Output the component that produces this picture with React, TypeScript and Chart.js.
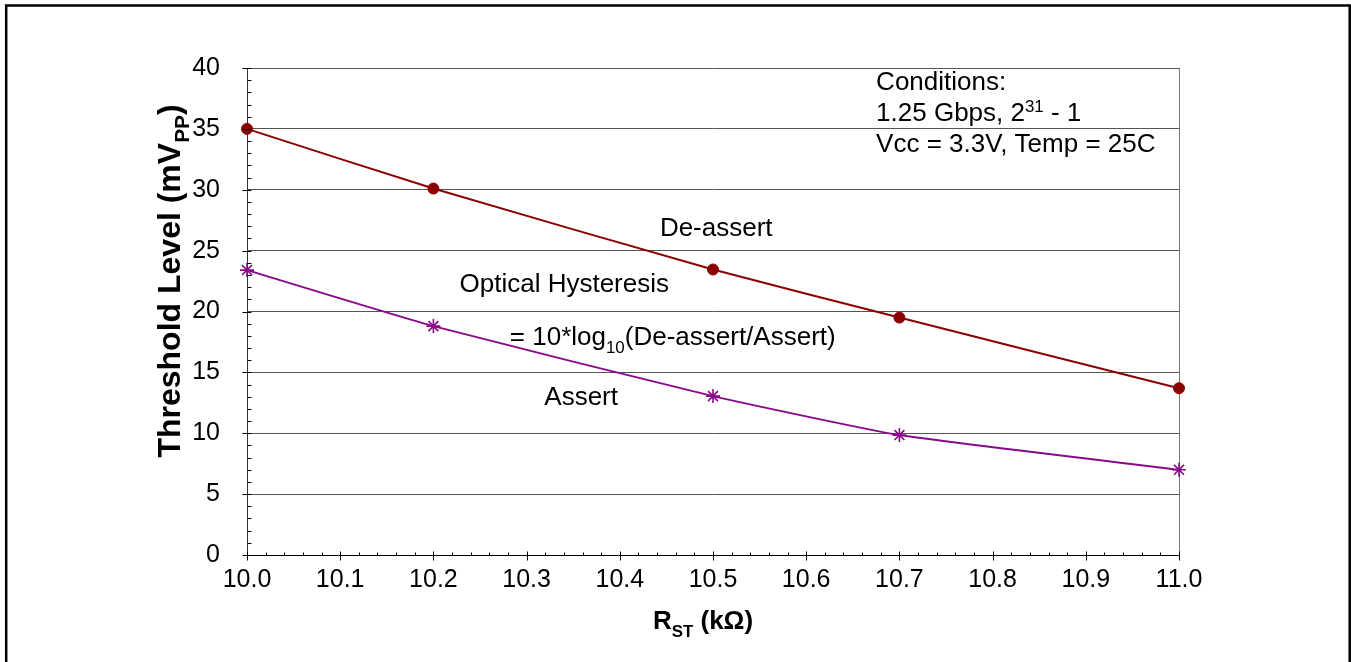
import React, { useEffect, useRef } from 'react';
import { Chart, registerables } from 'chart.js';

Chart.register(...registerables);

// ---- data ----
const rstValues = [10.0, 10.2, 10.5, 10.7, 11.0];
const deassertValues = [35.0, 30.1, 23.45, 19.5, 13.7];
const assertValues = [23.4, 18.8, 13.05, 9.85, 7.0];

const xMin = 10.0;
const xMax = 11.0;
const xStep = 0.1;
const xMinorStep = 0.02;
const yMin = 0;
const yMax = 40;
const yStep = 5;
const yMinorStep = 1;

type Part = { t: string; sub?: boolean; sup?: boolean };
type Note = { x: number; y: number; parts: Part[] };

const notes: Note[] = [
  { x: 10.675, y: 39.0, parts: [{ t: 'Conditions:' }] },
  { x: 10.675, y: 36.4, parts: [{ t: '1.25 Gbps, 2' }, { t: '31', sup: true }, { t: ' - 1' }] },
  { x: 10.675, y: 33.9, parts: [{ t: 'Vcc = 3.3V, Temp = 25C' }] },
  { x: 10.443, y: 27.0, parts: [{ t: 'De-assert' }] },
  { x: 10.228, y: 22.35, parts: [{ t: 'Optical Hysteresis' }] },
  { x: 10.282, y: 18.0, parts: [{ t: '= 10*log' }, { t: '10', sub: true }, { t: '(De-assert/Assert)' }] },
  { x: 10.319, y: 13.05, parts: [{ t: 'Assert' }] },
];

const yTitleParts: Part[] = [{ t: 'Threshold Level (mV' }, { t: 'PP', sub: true }, { t: ')' }];
const xTitleParts: Part[] = [{ t: 'R' }, { t: 'ST', sub: true }, { t: ' (k\u03A9)' }];

const FAMILY = "'Liberation Sans', Arial, Helvetica, sans-serif";

function fontStr(size: number, bold: boolean) {
  return `${bold ? 'bold ' : ''}${size}px ${FAMILY}`;
}

function richWidth(ctx: CanvasRenderingContext2D, parts: Part[], size: number, bold: boolean) {
  let w = 0;
  for (const p of parts) {
    const s = p.sub || p.sup ? size * 0.65 : size;
    ctx.font = fontStr(s, bold);
    w += ctx.measureText(p.t).width;
  }
  return w;
}

function drawRich(
  ctx: CanvasRenderingContext2D,
  parts: Part[],
  x: number,
  y: number,
  size: number,
  bold: boolean,
  align: 'left' | 'center'
) {
  const total = richWidth(ctx, parts, size, bold);
  let cx = align === 'center' ? x - total / 2 : x;
  ctx.textAlign = 'left';
  ctx.textBaseline = 'alphabetic';
  const baseY = y + size * 0.36;
  for (const p of parts) {
    const s = p.sub || p.sup ? size * 0.65 : size;
    ctx.font = fontStr(s, bold);
    let dy = 0;
    if (p.sub) dy = size * 0.3;
    if (p.sup) dy = -size * 0.36;
    ctx.fillText(p.t, cx, baseY + dy);
    cx += ctx.measureText(p.t).width;
  }
}

const decorPlugin = {
  id: 'decor',
  afterDatasetsDraw(chart: any) {
    const ctx: CanvasRenderingContext2D = chart.ctx;
    const xs = chart.scales.x;
    const ys = chart.scales.y;
    ctx.save();
    ctx.fillStyle = '#000';
    for (const n of notes) {
      drawRich(ctx, n.parts, xs.getPixelForValue(n.x), ys.getPixelForValue(n.y), 26, false, 'left');
    }
    ctx.restore();
  },
  afterDraw(chart: any) {
    const ctx: CanvasRenderingContext2D = chart.ctx;
    const xs = chart.scales.x;
    const ys = chart.scales.y;
    const area = chart.chartArea;
    ctx.save();
    // tick marks
    ctx.strokeStyle = '#000';
    ctx.lineWidth = 1;
    const x0 = Math.round(area.left) + 0.5;
    const nY = Math.round((yMax - yMin) / yMinorStep);
    const perMajorY = Math.round(yStep / yMinorStep);
    for (let i = 0; i <= nY; i++) {
      const v = yMin + i * yMinorStep;
      const py = Math.round(ys.getPixelForValue(v)) + 0.5;
      ctx.beginPath();
      if (i % perMajorY === 0) {
        ctx.moveTo(x0 - 5, py);
        ctx.lineTo(x0 + 4, py);
      } else {
        ctx.moveTo(x0, py);
        ctx.lineTo(x0 + 4, py);
      }
      ctx.stroke();
    }
    const y0 = Math.round(area.bottom) + 0.5;
    const nX = Math.round((xMax - xMin) / xMinorStep);
    const perMajorX = Math.round(xStep / xMinorStep);
    for (let i = 0; i <= nX; i++) {
      const v = xMin + i * xMinorStep;
      const px = Math.round(xs.getPixelForValue(v)) + 0.5;
      ctx.beginPath();
      if (i % perMajorX === 0) {
        ctx.moveTo(px, y0 - 4);
        ctx.lineTo(px, y0 + 5);
      } else {
        ctx.moveTo(px, y0 - 3);
        ctx.lineTo(px, y0);
      }
      ctx.stroke();
    }
    // axis titles
    ctx.fillStyle = '#000';
    ctx.save();
    ctx.translate(168, 281);
    ctx.rotate(-Math.PI / 2);
    drawRich(ctx, yTitleParts, 0, 0, 32, true, 'center');
    ctx.restore();
    drawRich(ctx, xTitleParts, 703, 620, 26, true, 'center');
    // outer border
    ctx.strokeStyle = '#000';
    ctx.lineWidth = 2.5;
    ctx.strokeRect(6.2, 5.5, 1343.5, 900);
    ctx.restore();
  },
};

export default function App() {
  const canvasRef = useRef<HTMLCanvasElement | null>(null);

  useEffect(() => {
    const canvas = canvasRef.current;
    if (!canvas) return;
    const chart = new Chart(canvas, {
      type: 'line',
      data: {
        datasets: [
          {
            label: 'De-assert',
            data: rstValues.map((x, i) => ({ x, y: deassertValues[i] })),
            borderColor: '#8b0000',
            backgroundColor: '#8b0000',
            borderWidth: 2,
            pointStyle: 'circle',
            pointRadius: 5.5,
            pointBorderWidth: 1,
            tension: 0.15,
            clip: false as any,
          },
          {
            label: 'Assert',
            data: rstValues.map((x, i) => ({ x, y: assertValues[i] })),
            borderColor: '#8a0a8a',
            backgroundColor: '#8a0a8a',
            borderWidth: 2,
            pointStyle: 'star',
            pointRadius: 7,
            pointBorderWidth: 1.6,
            tension: 0.15,
            clip: false as any,
          },
        ],
      },
      options: {
        responsive: false,
        animation: false,
        devicePixelRatio: 1,
        layout: { padding: { left: 0, top: 68, right: 172, bottom: 0 } },
        plugins: {
          legend: { display: false },
          title: { display: false },
          tooltip: { enabled: false },
        },
        scales: {
          x: {
            type: 'linear',
            min: xMin,
            max: xMax,
            ticks: {
              stepSize: xStep,
              color: '#000',
              padding: 10,
              font: { family: FAMILY, size: 25 },
              callback: (v: any) => Number(v).toFixed(1),
            },
            grid: {
              drawTicks: false,
              lineWidth: 1,
              color: (c: any) => (c.tick && c.tick.value >= xMax - 1e-6 ? '#7a7a7a' : 'rgba(0,0,0,0)'),
            },
            border: { display: true, color: '#000', width: 1 },
            afterFit: (scale: any) => {
              scale.height = 107;
            },
          },
          y: {
            type: 'linear',
            min: yMin,
            max: yMax,
            ticks: {
              stepSize: yStep,
              color: '#000',
              padding: 27,
              font: { family: FAMILY, size: 25 },
            },
            grid: {
              drawTicks: false,
              lineWidth: 1,
              color: (c: any) => (c.tick && c.tick.value === yMin ? 'rgba(0,0,0,0)' : '#555'),
            },
            border: { display: true, color: '#333', width: 1 },
            afterFit: (scale: any) => {
              scale.width = 247;
            },
          },
        },
      },
      plugins: [decorPlugin],
    });
    return () => chart.destroy();
  }, []);

  return (
    <div style={{ position: 'absolute', left: 0, top: 0, width: 1351, height: 662, background: '#fff' }}>
      <canvas ref={canvasRef} width={1351} height={662} style={{ display: 'block' }} />
    </div>
  );
}
